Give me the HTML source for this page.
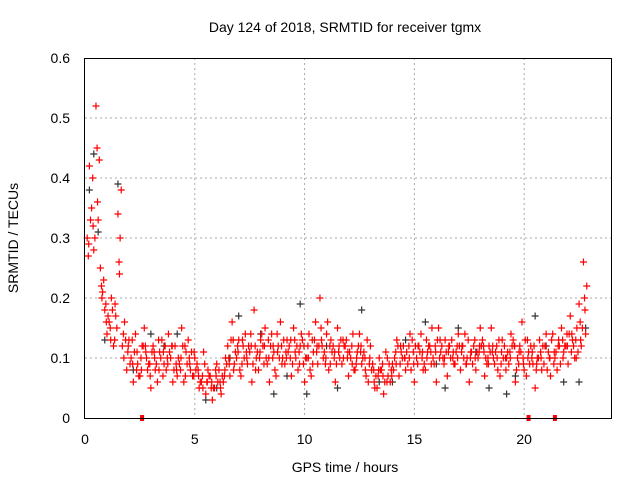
<!DOCTYPE html>
<html><head><meta charset="utf-8"><style>
body{margin:0;background:#fff}
svg{display:block;font-family:"Liberation Sans",sans-serif}
</style></head><body>
<svg id="chart" width="640" height="480" viewBox="0 0 640 480">
<text x="345" y="32" text-anchor="middle" font-size="14">Day 124 of 2018, SRMTID for receiver tgmx</text>
<text x="345" y="472" text-anchor="middle" font-size="14">GPS time / hours</text>
<text transform="translate(18,238) rotate(-90)" text-anchor="middle" font-size="14">SRMTID / TECUs</text>
<g id="grid"></g>
<g id="ticks"></g>
<g id="gray"></g>
<g id="red"></g>
<rect x="84.5" y="58.5" width="527" height="360" fill="none" stroke="#000"/>
</svg>
<script>
const xTicks=[0,5,10,15,20];
const yTicks=[0,0.1,0.2,0.3,0.4,0.5,0.6];
const yTickLabels=["0","0.1","0.2","0.3","0.4","0.5","0.6"];
const redTimes=[0.1,0.3,0.5,0.7,0.9,1.1,1.3,1.5,1.7,1.9,2.1,2.3,2.5,2.7,2.9,3.1,3.3,3.5,3.7,3.9,4.1,4.3,4.5,4.7,4.9,5.1,5.3,5.5,5.7,5.9,6.1,6.3,6.5,6.7,6.9,7.1,7.3,7.5,7.7,7.9,8.1,8.3,8.5,8.7,8.9,9.1,9.3,9.5,9.7,9.9,10.1,10.3,10.5,10.7,10.9,11.1,11.3,11.5,11.7,11.9,12.1,12.3,12.5,12.7,12.9,13.1,13.3,13.5,13.7,13.9,14.1,14.3,14.5,14.7,14.9,15.1,15.3,15.5,15.7,15.9,16.1,16.3,16.5,16.7,16.9,17.1,17.3,17.5,17.7,17.9,18.1,18.3,18.5,18.7,18.9,19.1,19.3,19.5,19.7,19.9,20.1,20.3,20.5,20.7,20.9,21.1,21.3,21.5,21.7,21.9,22.1,22.3,22.5,22.7];
const redValuesA=[.30,.35,.52,.25,.18,.16,.12,.34,.12,.08,.10,.14,.07,.15,.09,.12,.06,.13,.08,.10,.12,.09,.06,.13,.07,.09,.06,.04,.07,.05,.08,.06,.12,.16,.10,.07,.14,.11,.18,.08,.12,.09,.14,.07,.16,.09,.12,.15,.08,.13,.10,.07,.16,.20,.11,.08,.12,.15,.09,.13,.10,.08,.14,.11,.06,.09,.05,.08,.11,.06,.10,.07,.12,.09,.13,.10,.14,.08,.12,.09,.15,.10,.07,.13,.11,.08,.14,.06,.12,.10,.13,.09,.15,.11,.07,.12,.09,.13,.10,.16,.07,.12,.05,.13,.09,.11,.14,.08,.15,.12,.17,.10,.19,.26];
const redValuesB=[.42,.28,.33,.21,.14,.20,.17,.30,.16,.13,.06,.09,.12,.10,.05,.08,.11,.09,.14,.06,.07,.15,.11,.08,.10,.05,.11,.08,.03,.09,.04,.10,.07,.09,.13,.12,.09,.06,.10,.13,.15,.06,.11,.12,.10,.13,.07,.10,.12,.06,.14,.11,.09,.12,.14,.13,.06,.10,.12,.07,.14,.11,.09,.07,.12,.05,.10,.04,.07,.09,.13,.11,.08,.14,.06,.12,.08,.11,.15,.06,.11,.13,.12,.09,.14,.12,.10,.11,.08,.15,.07,.12,.10,.08,.13,.10,.14,.06,.12,.08,.11,.09,.10,.08,.14,.07,.10,.12,.11,.09,.13,.15,.12,.14];
const redValuesC=[.27,.40,.45,.22,.19,.15,.13,.26,.14,.11,.13,.08,.10,.12,.09,.11,.13,.07,.10,.12,.09,.08,.12,.10,.07,.08,.07,.06,.05,.08,.06,.07,.10,.13,.12,.09,.11,.14,.12,.10,.09,.13,.10,.14,.12,.11,.10,.13,.11,.09,.12,.13,.11,.15,.09,.12,.10,.11,.13,.10,.12,.09,.11,.10,.09,.08,.07,.09,.06,.08,.11,.09,.10,.12,.11,.09,.10,.13,.11,.12,.10,.09,.11,.10,.12,.11,.09,.10,.13,.11,.12,.10,.11,.12,.09,.10,.11,.12,.09,.10,.13,.10,.08,.11,.12,.10,.09,.12,.13,.14,.11,.13,.16,.20];
const redValuesD=[.33,.30,.43,.23,.17,.18,.15,.38,.13,.09,.11,.07,.12,.08,.11,.09,.10,.12,.11,.08,.10,.12,.09,.11,.08,.06,.09,.07,.05,.06,.07,.09,.13,.11,.08,.10,.12,.09,.11,.14,.10,.12,.08,.10,.13,.11,.09,.12,.14,.10,.08,.13,.12,.10,.16,.11,.09,.13,.12,.11,.08,.12,.10,.13,.08,.07,.08,.06,.09,.08,.12,.10,.11,.08,.12,.11,.09,.12,.10,.13,.12,.11,.10,.09,.12,.10,.13,.09,.11,.12,.10,.11,.09,.13,.10,.11,.12,.08,.11,.13,.09,.12,.10,.12,.08,.13,.11,.09,.12,.14,.12,.11,.15,.22];
const redValuesE=[.29,.32,.36,.20,.16,.13,.19,.24,.10,.12,.09,.11,.08,.11,.07,.10,.08,.11,.09,.12,.08,.10,.07,.09,.11,.07,.05,.06,.06,.07,.05,.08,.09,.08,.11,.13,.10,.12,.08,.11,.12,.10,.12,.11,.09,.10,.13,.11,.09,.12,.10,.09,.12,.13,.10,.09,.11,.12,.10,.11,.09,.10,.12,.08,.10,.06,.08,.07,.10,.07,.09,.12,.10,.10,.09,.12,.11,.10,.09,.11,.13,.10,.12,.11,.10,.12,.09,.11,.10,.12,.11,.09,.12,.10,.11,.08,.10,.12,.11,.09,.10,.11,.09,.10,.12,.10,.11,.13,.10,.12,.14,.10,.13,.18];
const grayTimes=[0.2,0.4,0.6,0.9,1.5,3.0,4.2,5.5,6.0,7.0,8.6,9.8,10.1,11.5,12.6,14.0,15.5,16.4,17.0,18.4,19.2,20.5,21.8,22.5,22.8,2.2,3.6,6.6,8.0,9.2,11.0,13.4,14.6,16.0,17.8,19.6,21.0];
const grayValues=[.38,.44,.31,.13,.39,.14,.14,.03,.05,.17,.04,.19,.04,.05,.18,.06,.16,.05,.15,.05,.04,.17,.06,.06,.15,.08,.12,.10,.14,.07,.12,.06,.13,.09,.11,.07,.12];
const markTimes=[2.6,20.2,21.4];
const markValues=[0,0,0];
const X=t=>85+t*(527/24), Y=v=>418-v*600;
const NS='http://www.w3.org/2000/svg';
const grid=document.getElementById('grid'), ticks=document.getElementById('ticks');
xTicks.forEach(t=>{
 if(t>0){const l=document.createElementNS(NS,'line');
 l.setAttribute('x1',X(t));l.setAttribute('x2',X(t));l.setAttribute('y1',58);l.setAttribute('y2',418);
 l.setAttribute('stroke','#aaa');l.setAttribute('stroke-dasharray','2,3');
 
 
 grid.appendChild(l);}
 const s=document.createElementNS(NS,'text');
 s.setAttribute('x',X(t));s.setAttribute('y',444);s.setAttribute('text-anchor','middle');s.setAttribute('font-size','14');
 s.textContent=t;
 
 
 ticks.appendChild(s);
});
yTicks.forEach((v,i)=>{
 if(v>0&&v<0.6){const l=document.createElementNS(NS,'line');
 l.setAttribute('x1',85);l.setAttribute('x2',612);l.setAttribute('y1',Y(v));l.setAttribute('y2',Y(v));
 l.setAttribute('stroke','#aaa');l.setAttribute('stroke-dasharray','2,3');
 
 
 grid.appendChild(l);}
 const s=document.createElementNS(NS,'text');
 s.setAttribute('x',70);s.setAttribute('y',Y(v)+5);s.setAttribute('text-anchor','end');s.setAttribute('font-size','14');
 s.textContent=yTickLabels[i];
 
 
 ticks.appendChild(s);
});
function plus(g,t,v,c){
 if(v===undefined||t===undefined)return;
 const p=document.createElementNS(NS,'path');const x=X(t),y=Y(v);
 p.setAttribute('d',`M${x-3.5} ${y}H${x+3.5}M${x} ${y-3.5}V${y+3.5}`);
 p.setAttribute('stroke',c);p.setAttribute('stroke-width','1.2');
 
 
 g.appendChild(p);
}
const gg=document.getElementById('gray'), rg=document.getElementById('red');
grayTimes.forEach((t,i)=>plus(gg,t,grayValues[i],'#333'));
redTimes.forEach((t,i)=>{
 plus(rg,t,redValuesA[i],'#f00');
 plus(rg,t+0.1,redValuesB[i],'#f00');
 plus(rg,t+0.05,redValuesC[i],'#f00');
 plus(rg,t+0.15,redValuesD[i],'#f00');
 plus(rg,t+0.07,redValuesE[i],'#f00');
});
markTimes.forEach((t,i)=>{
 const r=document.createElementNS(NS,'rect');
 r.setAttribute('x',X(t)-2);r.setAttribute('y',Y(markValues[i])-3);r.setAttribute('width',4);r.setAttribute('height',6);r.setAttribute('fill','#f00');
 
 
 rg.appendChild(r);
});
</script>
</body></html>
